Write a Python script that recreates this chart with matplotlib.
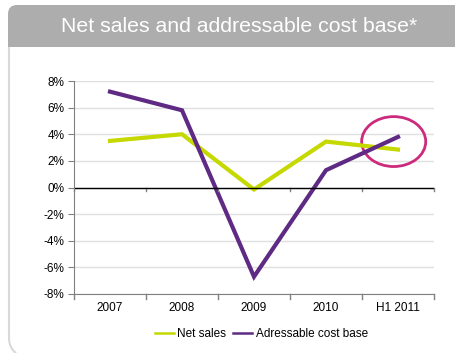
import matplotlib.pyplot as plt
from matplotlib.patches import FancyBboxPatch, Rectangle, Ellipse
from matplotlib.path import Path
from matplotlib.patches import PathPatch
from matplotlib.lines import Line2D

plt.rcParams['font.family'] = ['Liberation Sans', 'DejaVu Sans']

categories = ['2007', '2008', '2009', '2010', 'H1 2011']
net_sales = [3.5, 4.0, -0.15, 3.45, 2.85]
cost_base = [7.2, 5.8, -6.7, 1.3, 3.8]
y_ticks = [-8, -6, -4, -2, 0, 2, 4, 6, 8]

green = '#C5D800'
purple = '#5E2A84'
magenta = '#CC2A7C'

fig = plt.figure(figsize=(4.55, 3.53), dpi=100)

# background layer in pixel units for the card frame
bg = fig.add_axes([0, 0, 1, 1])
bg.set_xlim(0, 455)
bg.set_ylim(353, 0)
bg.axis('off')
bg.add_patch(FancyBboxPatch((8, 5), 460, 42, boxstyle='round,pad=0,rounding_size=9',
                            fc='#ADADAD', ec='none'))
bg.add_patch(Rectangle((8, 25), 460, 22, fc='#ADADAD', ec='none'))
frame = Path([(9, 47), (9, 338), (9, 348), (16, 353)],
             [Path.MOVETO, Path.LINETO, Path.CURVE3, Path.CURVE3])
bg.add_patch(PathPatch(frame, fc='none', ec='#D9D9D9', lw=1.5))
bg.text(239, 27, 'Net sales and addressable cost base*', color='white',
        fontsize=15.3, ha='center', va='center')

ax = fig.add_axes([74 / 455, 59 / 353, 360 / 455, 213 / 353])
x = range(len(categories))
ax.plot(x, net_sales, color=green, lw=3, solid_joinstyle='miter')
ax.plot(x, cost_base, color=purple, lw=3, solid_joinstyle='miter')

ax.set_xlim(-0.5, len(categories) - 0.5)
ax.set_ylim(-8, 8)
ax.set_yticks(y_ticks)
ax.set_yticklabels([f'{v}%' for v in y_ticks], fontsize=8.5)
ax.set_xticks(list(x))
ax.set_xticklabels(categories, fontsize=8.5)
ax.tick_params(axis='x', length=0, pad=6)
ax.tick_params(axis='y', length=4, color='#808080', pad=3)

# category boundary ticks along the bottom and the zero line
for b in [i - 0.5 for i in range(len(categories) + 1)]:
    ax.plot([b, b], [-8, -8.35], color='#808080', lw=1, clip_on=False)
    ax.plot([b, b], [0, -0.3], color='#808080', lw=1, clip_on=False)

ax.grid(axis='y', color='#E0E0E0', lw=1)
ax.axhline(0, color='black', lw=1)
for side in ['top', 'right']:
    ax.spines[side].set_visible(False)
ax.spines['left'].set_color('#808080')
ax.spines['bottom'].set_color('#808080')
ax.set_axisbelow(True)

ax.add_patch(Ellipse((3.94, 3.45), 0.89, 3.75, fill=False, ec=magenta, lw=2, clip_on=False))

handles = [Line2D([], [], color=green, lw=1.8), Line2D([], [], color=purple, lw=1.8)]
ax.legend(handles, ['Net sales', 'Adressable cost base'], loc='upper center',
          bbox_to_anchor=(0.52, -0.11), ncol=2, frameon=False, fontsize=8.5,
          handlelength=1.6, handletextpad=0.3, columnspacing=0.6)

fig.savefig('out.png', dpi=100)
